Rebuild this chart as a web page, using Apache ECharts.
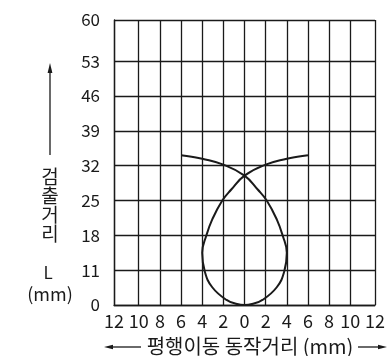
<!DOCTYPE html>
<html>
<head>
<meta charset="utf-8">
<script src="https://cdn.jsdelivr.net/npm/echarts@6/dist/echarts.min.js"></script>
<style>
html,body{margin:0;padding:0;background:#fff;}
#chart{width:388px;height:356px;}
</style>
</head>
<body>
<div id="chart"></div>
<script>
// ---- data (mm) ----
var yTickValues = [0, 11, 18, 25, 32, 39, 46, 53, 60];
var yTickLabels = ['0', '11', '18', '25', '32', '39', '46', '53', '60'];
var xTickValues = [-12, -10, -8, -6, -4, -2, 0, 2, 4, 6, 8, 10, 12];
var xTickLabels = ['12', '10', '8', '6', '4', '2', '0', '2', '4', '6', '8', '10', '12'];

// arm starting at left end, crossing centre, forming right side of loop, ending at bottom
var armAX = [-6, -5, -4, -2, 0, 1.25, 2.1, 3.05, 3.6, 4, 3.75, 3.05, 1.7, 0.7, 0];
var armAY = [34.1, 33.8, 33.4, 32.2, 30, 27.2, 25, 21.2, 18, 14.5, 10.5, 5.6, 1.6, 0.3, 0];
// arm starting at right end, crossing centre, forming left side of loop, ending at bottom
var armBX = [6, 5, 4, 2, 0, -1.25, -2.1, -3.05, -3.6, -4, -3.75, -3.05, -1.7, -0.7, 0];
var armBY = [34.1, 33.8, 33.4, 32.2, 30, 27.2, 25, 21.2, 18, 14.5, 10.5, 5.6, 1.6, 0.3, 0];

// ---- axis layout (gridline positions of the printed chart) ----
var yGridPos = [0, 1, 2, 3, 4, 5, 6, 7, 8.18];       // uneven top row
var xEdge = 12.34;                                    // outer columns slightly wider
var xGridPos = xTickValues.map(function (v, i) {
  return i === 0 ? -xEdge : (i === xTickValues.length - 1 ? xEdge : v);
});

function yToAxis(mm) {
  for (var i = 0; i < yTickValues.length - 1; i++) {
    if (mm <= yTickValues[i + 1] || i === yTickValues.length - 2) {
      var t = (mm - yTickValues[i]) / (yTickValues[i + 1] - yTickValues[i]);
      return yGridPos[i] + t * (yGridPos[i + 1] - yGridPos[i]);
    }
  }
}
function xToAxis(mm) {
  if (mm > 10) return 10 + (mm - 10) / 2 * (xEdge - 10);
  if (mm < -10) return -10 + (mm + 10) / 2 * (xEdge - 10);
  return mm;
}
// one continuous path: arm A down to bottom, then arm B back up (reversed)
function buildPath() {
  var pts = [];
  for (var i = 0; i < armAX.length; i++) pts.push([xToAxis(armAX[i]), yToAxis(armAY[i])]);
  for (var j = armBX.length - 2; j >= 0; j--) pts.push([xToAxis(armBX[j]), yToAxis(armBY[j])]);
  return pts;
}
function nearestIndex(arr, v) {
  var best = 0;
  for (var i = 1; i < arr.length; i++) if (Math.abs(arr[i] - v) < Math.abs(arr[best] - v)) best = i;
  return best;
}

var FONT = '"Noto Sans CJK KR", "Noto Sans", sans-serif';
var INK = '#1a1a1a';

var chart = echarts.init(document.getElementById('chart'), null, { renderer: 'canvas' });

chart.setOption({
  backgroundColor: '#fff',
  animation: false,
  grid: { left: 114, right: 10, top: 20, bottom: 51 },
  xAxis: {
    type: 'value',
    min: -xEdge, max: xEdge,
    axisLine: { show: true, onZero: false, lineStyle: { color: INK, width: 1.3 } },
    axisTick: { show: false, customValues: xGridPos },
    splitLine: { show: true, lineStyle: { color: INK, width: 1.3 } },
    axisLabel: {
      customValues: xGridPos,
      color: INK, fontFamily: FONT, fontSize: 18, margin: 7,
      formatter: function (v) { return xTickLabels[nearestIndex(xGridPos, v)]; }
    }
  },
  yAxis: {
    type: 'value',
    min: 0, max: yGridPos[yGridPos.length - 1],
    axisLine: { show: true, onZero: false, lineStyle: { color: INK, width: 1.3 } },
    axisTick: { show: false, customValues: yGridPos },
    splitLine: { show: true, lineStyle: { color: INK, width: 1.3 } },
    axisLabel: {
      customValues: yGridPos,
      color: INK, fontFamily: FONT, fontSize: 17, margin: 14,
      formatter: function (v) { return yTickLabels[nearestIndex(yGridPos, v)]; }
    }
  },
  series: [
    { type: 'line', data: buildPath(), smooth: 0.45, showSymbol: false,
      lineStyle: { color: INK, width: 2 } }
  ],
  graphic: [
    // vertical title arrow
    { type: 'line', shape: { x1: 50, y1: 155, x2: 50, y2: 70 }, style: { stroke: INK, lineWidth: 1.3 } },
    { type: 'polygon', shape: { points: [[50, 63], [47.6, 73], [52.4, 73]] }, style: { fill: INK } },
    { type: 'text', x: 50, y: 177, style: { text: '검', font: '19px ' + FONT, fill: INK, align: 'center', verticalAlign: 'middle' } },
    { type: 'text', x: 50, y: 196, style: { text: '출', font: '19px ' + FONT, fill: INK, align: 'center', verticalAlign: 'middle' } },
    { type: 'text', x: 50, y: 215, style: { text: '거', font: '19px ' + FONT, fill: INK, align: 'center', verticalAlign: 'middle' } },
    { type: 'text', x: 50, y: 234, style: { text: '리', font: '19px ' + FONT, fill: INK, align: 'center', verticalAlign: 'middle' } },
    { type: 'text', x: 48, y: 273, style: { text: 'L', font: '17px ' + FONT, fill: INK, align: 'center', verticalAlign: 'middle' } },
    { type: 'text', x: 50, y: 294, style: { text: '(mm)', font: '18px ' + FONT, fill: INK, align: 'center', verticalAlign: 'middle' } },
    // horizontal title with arrows
    { type: 'line', shape: { x1: 110, y1: 347, x2: 141, y2: 347 }, style: { stroke: INK, lineWidth: 1.3 } },
    { type: 'polygon', shape: { points: [[104, 347], [113, 344.8], [113, 349.2]] }, style: { fill: INK } },
    { type: 'text', x: 250, y: 346, style: { text: '평행이동 동작거리 (mm)', font: '20px ' + FONT, fill: INK, align: 'center', verticalAlign: 'middle' } },
    { type: 'line', shape: { x1: 358, y1: 347, x2: 381, y2: 347 }, style: { stroke: INK, lineWidth: 1.3 } },
    { type: 'polygon', shape: { points: [[387, 347], [378, 344.8], [378, 349.2]] }, style: { fill: INK } }
  ]
});
</script>
</body>
</html>
